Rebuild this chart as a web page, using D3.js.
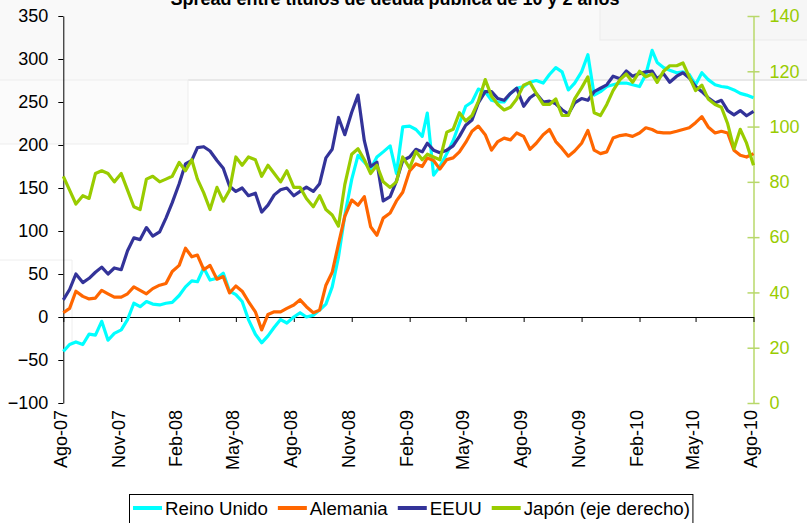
<!DOCTYPE html>
<html>
<head>
<meta charset="utf-8">
<script src="https://cdn.jsdelivr.net/npm/d3@7"></script>
<style>
  body { margin: 0; background: #fff; }
  svg { display: block; font-family: "Liberation Sans", Arial, sans-serif; }
</style>
</head>
<body>
<div class="chart"></div>
<script>
// data (1st, 11th and 21st of each month)
const dates = [
  "2007-08-01","2007-08-11","2007-08-21","2007-09-01","2007-09-11","2007-09-21","2007-10-01","2007-10-11","2007-10-21","2007-11-01","2007-11-11","2007-11-21","2007-12-01","2007-12-11","2007-12-21",
  "2008-01-01","2008-01-11","2008-01-21","2008-02-01","2008-02-11","2008-02-21","2008-03-01","2008-03-11","2008-03-21","2008-04-01","2008-04-11","2008-04-21","2008-05-01","2008-05-11","2008-05-21",
  "2008-06-01","2008-06-11","2008-06-21","2008-07-01","2008-07-11","2008-07-21","2008-08-01","2008-08-11","2008-08-21","2008-09-01","2008-09-11","2008-09-21","2008-10-01","2008-10-11","2008-10-21",
  "2008-11-01","2008-11-11","2008-11-21","2008-12-01","2008-12-11","2008-12-21",
  "2009-01-01","2009-01-11","2009-01-21","2009-02-01","2009-02-11","2009-02-21","2009-03-01","2009-03-11","2009-03-21","2009-04-01","2009-04-11","2009-04-21","2009-05-01","2009-05-11","2009-05-21",
  "2009-06-01","2009-06-11","2009-06-21","2009-07-01","2009-07-11","2009-07-21","2009-08-01","2009-08-11","2009-08-21","2009-09-01","2009-09-11","2009-09-21","2009-10-01","2009-10-11","2009-10-21",
  "2009-11-01","2009-11-11","2009-11-21","2009-12-01","2009-12-11","2009-12-21",
  "2010-01-01","2010-01-11","2010-01-21","2010-02-01","2010-02-11","2010-02-21","2010-03-01","2010-03-11","2010-03-21","2010-04-01","2010-04-11","2010-04-21","2010-05-01","2010-05-11","2010-05-21",
  "2010-06-01","2010-06-11","2010-06-21","2010-07-01","2010-07-11","2010-07-21","2010-08-01"
];

const reino_unido = [
  -40,-32,-29, -32,-20,-21, -5,-27,-19, -15,-3,16, 12,18,15,
  14,16,17, 25,35,42, 41,57,43, 45,51,30, 26,18,-3,
  -20,-30,-22, -12,-3,-7, 0,5,0, 2,8,15, 35,70,118,
  160,188,180, 172,186,192,
  199,167,221, 222,218,210, 237,165,175, 190,205,225, 245,250,265,
  262,252,250, 250,260,266, 268,273,275, 272,282,290, 285,264,272,
  285,305,258, 262,268,270,
  272,272,270, 268,282,310, 296,290,287, 284,285,282, 270,284,276,
  270,268,267, 264,260,258, 255
];

const alemania = [
  5,10,30, 24,21,22, 31,27,23, 23,27,35, 31,27,33,
  37,39,53, 60,80,70, 72,55,60, 44,47,28, 36,30,18,
  6,-15,3, 6,6,10, 14,20,12, 5,8,37, 52,85,117,
  136,130,140, 105,95,115,
  121,135,145, 170,178,175, 185,182,172, 183,185,192, 203,216,222,
  212,194,204, 208,206,214, 210,195,202, 212,218,204, 196,187,193,
  202,217,194, 190,192,208,
  211,212,210, 214,220,218, 215,214,214, 216,218,220, 226,233,221,
  214,216,214, 194,188,186, 190
];

const eeuu = [
  20,32,50, 40,45,52, 58,50,57, 55,77,92, 90,104,94,
  99,115,133, 155,178,182, 197,198,193, 182,173,152, 146,150,141,
  144,122,130, 142,148,150, 141,146,151, 146,155,185, 195,232,212,
  238,258,205, 175,180,135,
  140,158,182, 186,195,192, 202,194,191, 194,199,210, 223,229,249,
  262,262,254, 252,260,266, 245,255,260, 250,251,248, 241,236,249,
  254,252,262, 266,270,280,
  277,286,280, 283,285,286, 277,283,273, 280,284,278, 268,262,255,
  249,252,240, 235,240,234, 239
];

// eje derecho
const japon = [
  82,77,72, 75,74,83, 84,83,80, 83,77,71, 70,81,82,
  80,81,82, 87,84,88, 81,76,70, 78,73,77, 89,86,89,
  88,82,86, 83,80,84, 78,78,74, 71,75,70, 68,64,79,
  90,92,88, 83,86,80,
  78,80,89, 85,91,88, 90,89,88, 98,99,105, 102,104,109,
  117,111,108, 106,107,110, 115,116,112, 108,108,110, 104,104,110,
  114,118,105, 104,108,113,
  117,119,116, 120,118,119, 116,120,122, 122,123,118, 113,115,110,
  108,107,101, 92,99,94, 86
];

const tick_dates = ["2007-08-01","2007-11-01","2008-02-01","2008-05-01","2008-08-01","2008-11-01","2009-02-01",
  "2009-05-01","2009-08-01","2009-11-01","2010-02-01","2010-05-01","2010-08-01"];
const tick_labels = ["Ago-07","Nov-07","Feb-08","May-08","Ago-08","Nov-08","Feb-09",
  "May-09","Ago-09","Nov-09","Feb-10","May-10","Ago-10"];
const left_ticks = [-100,-50,0,50,100,150,200,250,300,350];
const right_ticks = [0,20,40,60,80,100,120,140];

const series_names = ["Reino Unido","Alemania","EEUU","Japón (eje derecho)"];
const series_colors = ["#00ffff","#ff6600","#333399","#99cc00"];

const W = 807, H = 523;
const frame = {left: 63.3, right: 753.5, top: 16, bottom: 403};

const parse = d3.timeParse("%Y-%m-%d");
const x = d3.scaleTime().domain([parse("2007-08-01"), parse("2010-08-01")]).range([frame.left, frame.right]);
const yl = d3.scaleLinear().domain([-100, 350]).range([frame.bottom, frame.top]);
const yr = d3.scaleLinear().domain([0, 140]).range([frame.bottom, frame.top]);

const svg = d3.select(".chart").append("svg").attr("width", W).attr("height", H);

// faint background boxes seen behind the chart
const bg = svg.append("g");
bg.append("rect").attr("x", 0).attr("y", 0).attr("width", W).attr("height", 80).attr("fill", "#f9f9f9");
bg.append("rect").attr("x", 600).attr("y", -1).attr("width", 208).attr("height", 41)
  .attr("fill", "#f6f6f6").attr("stroke", "#ebebeb");
bg.append("line").attr("x1", 188).attr("x2", W).attr("y1", 80).attr("y2", 80).attr("stroke", "#e8e8e8").attr("stroke-width", 2);
bg.append("rect").attr("x", -1).attr("y", 80).attr("width", 189).attr("height", 64)
  .attr("fill", "#fbfbfb").attr("stroke", "#ededed");
bg.append("path").attr("d", "M0,260H72V345").attr("fill", "none").attr("stroke", "#eeeeee");

// title (cut at the top, as in the picture)
svg.append("text").text("Spread entre títulos de deuda pública de 10 y 2 años")
  .attr("x", 395).attr("y", 5)
  .attr("text-anchor", "middle")
  .style("font-weight", "bold").style("font-size", "18px").attr("fill", "#000");

// left axis
const gl = svg.append("g").attr("transform", `translate(${frame.left},0)`)
  .call(d3.axisLeft(yl).tickValues(left_ticks).tickSize(5).tickPadding(10).tickSizeOuter(0));
gl.select(".domain").attr("stroke", "#000");
gl.selectAll("text").style("font-size", "18px").attr("fill", "#000").attr("font-family", null);

// right axis (Japan)
const gr = svg.append("g").attr("transform", `translate(${frame.right},0)`)
  .call(d3.axisRight(yr).tickValues(right_ticks).tickSize(6).tickPadding(10).tickSizeOuter(0));
gr.select(".domain").attr("stroke", "#b8d86a").attr("stroke-width", 1.5);
gr.selectAll(".tick line").attr("stroke", "#b8d86a").attr("stroke-width", 1.5).attr("x1", -6);
gr.selectAll("text").style("font-size", "18px").attr("fill", "#99cc00").attr("font-family", null);

// x axis at zero
const gx = svg.append("g").attr("transform", `translate(0,${yl(0)})`)
  .call(d3.axisBottom(x).tickValues(tick_dates.map(parse)).tickSize(5).tickFormat("").tickSizeOuter(0));
gx.select(".domain").attr("stroke", "#000");

// x labels at the bottom, rotated
svg.append("g").selectAll("text")
  .data(tick_dates)
  .join("text")
  .attr("transform", d => `translate(${x(parse(d)) - 3},410) rotate(-90)`)
  .attr("dy", "0.35em")
  .attr("text-anchor", "end")
  .style("font-size", "18px")
  .text((d, i) => tick_labels[i]);

// series
const values = [reino_unido, alemania, eeuu, japon];
const line_l = d3.line().x((d, i) => x(parse(dates[i]))).y(d => yl(d));
const line_r = d3.line().x((d, i) => x(parse(dates[i]))).y(d => yr(d));

values.forEach((vals, k) => {
  svg.append("path")
    .datum(vals)
    .attr("d", k === 3 ? line_r : line_l)
    .attr("fill", "none")
    .attr("stroke", series_colors[k])
    .attr("stroke-width", 3.2)
    .attr("stroke-linejoin", "round");
});

// legend
const legend = svg.append("g");
const box = legend.append("rect")
  .attr("x", 129.5).attr("y", 494.5).attr("height", 40)
  .attr("fill", "#fff").attr("stroke", "#000");
let lx = 133;
series_names.forEach((name, k) => {
  legend.append("line")
    .attr("x1", lx).attr("x2", lx + 29).attr("y1", 508).attr("y2", 508)
    .attr("stroke", series_colors[k]).attr("stroke-width", 4);
  const t = legend.append("text").text(name)
    .attr("x", lx + 32).attr("y", 515)
    .style("font-size", "18.7px");
  lx += 32 + t.node().getComputedTextLength() + 10;
});
box.attr("width", lx - 129.5 - 7);
</script>
</body>
</html>
